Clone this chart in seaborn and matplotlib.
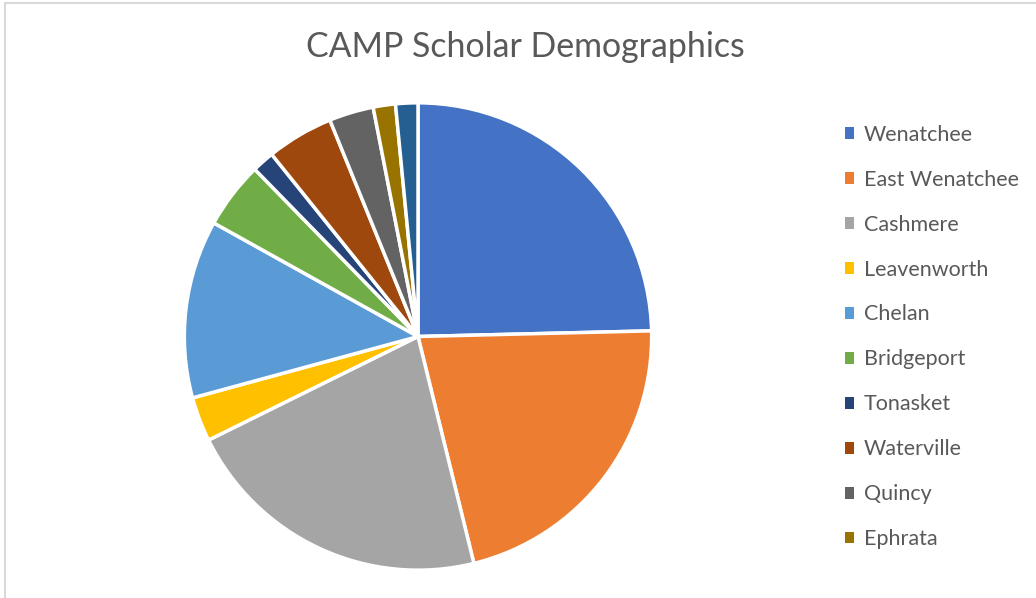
import matplotlib
matplotlib.use("Agg")
import matplotlib.pyplot as plt
import matplotlib.patches as mpatches
import seaborn as sns

sns.set_theme(style="white")
plt.rcParams['font.family'] = ['Lato', 'DejaVu Sans']

# scholar counts per hometown (last slice has no legend entry in the original)
towns = ['Wenatchee', 'East Wenatchee', 'Cashmere', 'Leavenworth', 'Chelan',
         'Bridgeport', 'Tonasket', 'Waterville', 'Quincy', 'Ephrata', 'Other']
counts = [16, 14, 14, 2, 8, 3, 1, 3, 2, 1, 1]
colors = ['#4472C4', '#ED7D31', '#A5A5A5', '#FFC000', '#5B9BD5', '#70AD47',
          '#264478', '#9E480E', '#636363', '#997300', '#255E91']
legend_towns = towns[:10]

fig = plt.figure(figsize=(10.36, 5.98), dpi=100)
fig.patch.set_facecolor('white')

# light chart-area border (only left and top edges visible in the crop)
fig.patches.append(mpatches.Rectangle((5 / 1036, -0.1), 1.2, 1 - 3 / 598 + 0.1,
                                      transform=fig.transFigure, fill=False,
                                      edgecolor='#D9D9D9', linewidth=1.5))

# pie centred at (418, 336.5) px, radius ~233 px
ax = fig.add_axes([(418 - 236) / 1036, 1 - (336.5 + 236) / 598, 472 / 1036, 472 / 598])
wedges, _ = ax.pie(counts, colors=colors, startangle=90, counterclock=False,
                   radius=1.0, wedgeprops=dict(edgecolor='white', linewidth=2.5))
ax.set_xlim(-1.01, 1.01)
ax.set_ylim(-1.01, 1.01)
ax.set_aspect('equal')
ax.axis('off')

fig.text(525 / 1036, 1 - 47 / 598, 'CAMP Scholar Demographics', ha='center', va='center',
         fontsize=24.4, color='#595959')

handles = [mpatches.Patch(facecolor=c, edgecolor='none') for c in colors[:10]]
leg = fig.legend(handles, legend_towns, loc='upper left',
                 bbox_to_anchor=(836 / 1036, 1 - 116 / 598), frameon=False,
                 fontsize=15.5, labelcolor='#595959', handlelength=0.45, handleheight=0.45,
                 handletextpad=0.45, labelspacing=1.16, borderaxespad=0)

fig.savefig('out.png', dpi=100, facecolor='white')
